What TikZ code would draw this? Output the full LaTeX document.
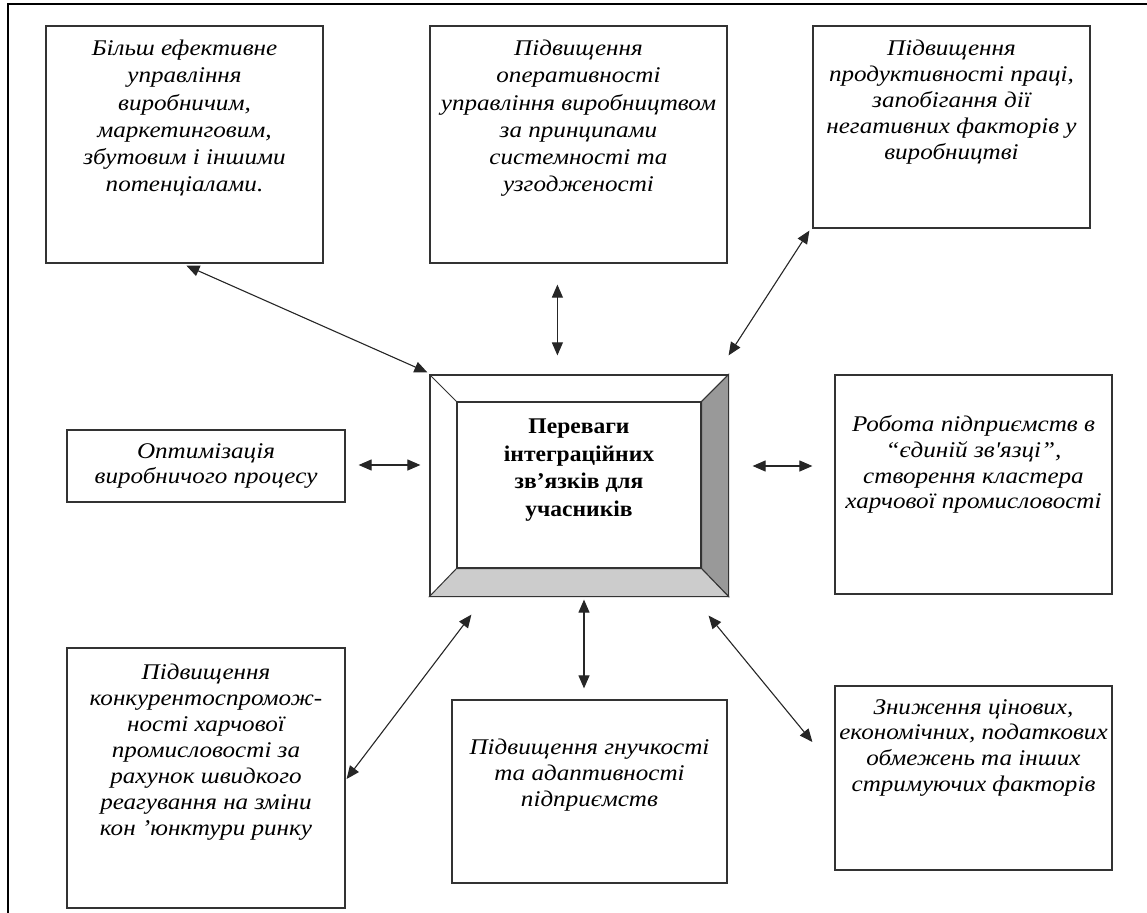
\documentclass[tikz,border=0pt]{standalone}
\usepackage{fontspec}
\setmainfont{Liberation Serif}
\newfontfamily\boxfont[FakeStretch=1.12]{Liberation Serif}
\newfontfamily\centfont[FakeStretch=1.05]{Liberation Serif}
\usetikzlibrary{arrows.meta,calc}
\begin{document}
\begin{tikzpicture}[x=1bp,y=-1bp,
  box/.style={draw=black!80, line width=1.2bp, fill=white, inner sep=0pt},
  txt/.style={font=\boxfont\fontsize{22.5}{26}\selectfont\itshape, align=center, inner sep=0pt, anchor=north},
  txtw/.style={font=\boxfont\fontsize{22.5}{27.3}\selectfont\itshape, align=center, inner sep=0pt, anchor=north},
  ctxt/.style={font=\centfont\fontsize{22.5}{27.5}\selectfont\bfseries, align=center, inner sep=0pt, anchor=north},
  tipx/.tip={Triangle[length=13bp,width=11bp]},
  arr/.style={tipx-tipx, line width=1.1bp, draw=black!85}]
\useasboundingbox (0,0) rectangle (1147,913);
\draw[line width=2.5bp] (8,913) -- (8,4) -- (1147,4);

% boxes
\node[box, minimum width=277bp, minimum height=237bp] (tl) at (184.5,144.5) {};
\node[box, minimum width=297bp, minimum height=237bp] (tm) at (578.5,144.5) {};
\node[box, minimum width=277bp, minimum height=202bp] (tr) at (951.5,127) {};
\node[box, minimum width=278bp, minimum height=72bp] (ml) at (206,466) {};
\node[box, minimum width=277bp, minimum height=219bp] (mr) at (973.5,484.5) {};
\node[box, minimum width=278bp, minimum height=260bp] (bl) at (206,778) {};
\node[box, minimum width=275bp, minimum height=183bp] (bm) at (589.5,791.5) {};
\node[box, minimum width=277bp, minimum height=184bp] (br) at (973.5,778) {};

% centre bevelled box
\node[box, minimum width=298bp, minimum height=221bp] (c) at (579,485.5) {};
\node[box, minimum width=244bp, minimum height=166bp] (ci) at (579,485) {};
\draw[black!80, line width=1bp, fill=black!40] (c.north east) -- (c.south east) -- (ci.south east) -- (ci.north east) -- cycle;
\draw[black!80, line width=1bp, fill=black!20] (c.south west) -- (c.south east) -- (ci.south east) -- (ci.south west) -- cycle;
\draw[black!80, line width=1bp] (c.north west) -- (ci.north west);
\draw[black!80, line width=1bp] (c.north east) -- (ci.north east);
\draw[black!80, line width=1.2bp] (c.north west) rectangle (c.south east);
\draw[black!80, line width=1.2bp] (ci.north west) rectangle (ci.south east);

% texts
\node[txtw] (tlt) at (184.5,40) {Більш ефективне\\управління\\виробничим,\\маркетинговим,\\збутовим і іншими\\потенціалами.};
\node[txtw] (tmt) at (578.5,40) {Підвищення\\оперативності\\управління виробництвом\\за принципами\\системності та\\узгодженості};
\node[txt] (trt) at (951.5,40) {Підвищення\\продуктивності праці,\\запобігання дії\\негативних факторів у\\виробництві};
\node[txt, anchor=center] (mlt) at (206,466) {Оптимізація\\виробничого процесу};
\node[txt] (mrt) at (973.5,415) {Робота підприємств в\\“єдиній зв'язці”,\\створення кластера\\харчової промисловості};
\node[txt] (blt) at (206,664) {Підвищення\\конкурентоспромож-\\ності харчової\\промисловості за\\рахунок швидкого\\реагування на зміни\\кон ’юнктури ринку};
\node[txt] (bmt) at (589.5,739) {Підвищення гнучкості\\та адаптивності\\підприємств};
\node[txt] (brt) at (973.5,699) {Зниження цінових,\\економічних, податкових\\обмежень та інших\\стримуючих факторів};
\node[ctxt] (ct) at (579,419) {Переваги\\інтеграційних\\зв’язків для\\учасників};

% connectors
\draw[arr] ($(tl.south west)+(141,2)$) -- ($(c.north west)+(-2,-2)$);
\draw[arr] ($(tm.south west)+(128,21)$) -- ($(c.north west)+(128,-19)$);
\draw[arr] ($(tr.south west)+(-3,2)$) -- ($(c.north east)+(0,-19)$);
\draw[arr] ($(ml.east)+(13,-1)$) -- ($(c.west)+(-9,-20.5)$);
\draw[arr] ($(c.east)+(24,-19.5)$) -- ($(mr.west)+(-22,-18.5)$);
\draw[arr] ($(c.south west)+(42,18)$) -- ($(bl.east)+(1,1)$);
\draw[arr] ($(c.south)+(5,3)$) -- ($(bm.north)+(-5.5,-11)$);
\draw[arr] ($(c.south east)+(-20,19)$) -- ($(br.west)+(-22,-36)$);
\end{tikzpicture}
\end{document}
